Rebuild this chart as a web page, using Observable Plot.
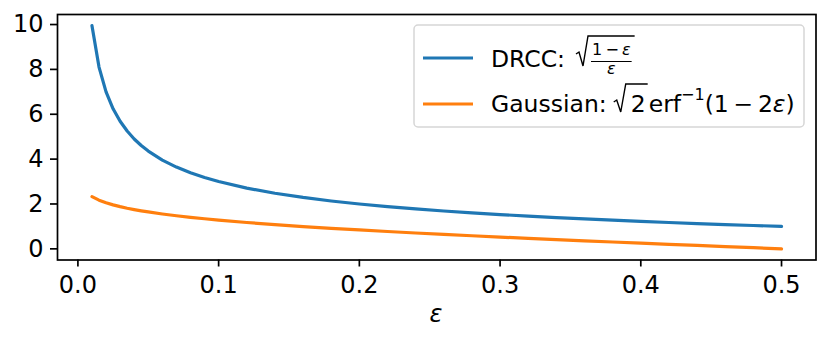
<!DOCTYPE html>
<html>
<head>
<meta charset="utf-8">
<script src="https://cdn.jsdelivr.net/npm/d3@7"></script>
<script src="https://cdn.jsdelivr.net/npm/@observablehq/plot@0.6"></script>
<style>
  html, body { margin: 0; padding: 0; background: white; }
  svg { display: block; }
</style>
</head>
<body>
<script>
// ε values (x)
const eps = [0.01, 0.015, 0.02, 0.025, 0.03, 0.035, 0.04, 0.045, 0.05, 0.06, 0.07, 0.08, 0.09, 0.10,
  0.12, 0.14, 0.16, 0.18, 0.20, 0.22, 0.24, 0.26, 0.28, 0.30, 0.32, 0.34, 0.36, 0.38, 0.40,
  0.42, 0.44, 0.46, 0.48, 0.50];
// DRCC series
const drcc = [9.950, 8.103, 7.000, 6.245, 5.686, 5.251, 4.899, 4.607, 4.359, 3.958, 3.645, 3.391, 3.180, 3.000,
  2.708, 2.478, 2.291, 2.134, 2.000, 1.883, 1.780, 1.687, 1.604, 1.528, 1.458, 1.393, 1.333, 1.277, 1.225,
  1.175, 1.128, 1.083, 1.041, 1.000];
// Gaussian series
const gaussian = [2.326, 2.170, 2.054, 1.960, 1.881, 1.812, 1.751, 1.695, 1.645, 1.555, 1.476, 1.405, 1.341, 1.282,
  1.175, 1.080, 0.994, 0.915, 0.842, 0.772, 0.706, 0.643, 0.583, 0.524, 0.468, 0.412, 0.358, 0.305, 0.253,
  0.202, 0.151, 0.100, 0.050, 0.000];
const xTicks = [0, 0.1, 0.2, 0.3, 0.4, 0.5];
const yTicks = [0, 2, 4, 6, 8, 10];

const drccRows = eps.map((e, i) => ({eps: e, v: drcc[i]}));
const gaussRows = eps.map((e, i) => ({eps: e, v: gaussian[i]}));

const FONT = "'DejaVu Sans', sans-serif";
const FS = 24;          // tick labels / axis label
const FS_LEG = 23.5;    // legend text
const FS_SMALL = 16;    // fraction / superscript
const TS = "\u2009";    // thin space around binary operators

const chart = Plot.plot({
  width: 830,
  height: 341,
  marginLeft: 57,
  marginRight: 14.5,
  marginTop: 14,
  marginBottom: 81.5,
  style: {fontFamily: FONT, fontSize: FS + "px", background: "white", color: "black"},
  x: {domain: [-0.0145, 0.5245]},
  y: {domain: [-0.4975, 10.4475]},
  marks: [
    Plot.line(drccRows, {x: "eps", y: "v", stroke: "#1f77b4", strokeWidth: 3.2}),
    Plot.line(gaussRows, {x: "eps", y: "v", stroke: "#ff7f0e", strokeWidth: 3.2}),
    Plot.frame({stroke: "black", strokeWidth: 1.7}),
    Plot.axisX({ticks: xTicks, tickFormat: d3.format(".1f"), tickSize: 7, tickPadding: 9,
      strokeWidth: 1.7, label: null, fill: "black", stroke: "black"}),
    Plot.axisY({ticks: yTicks, tickFormat: d => String(d), tickSize: 7, tickPadding: 7,
      strokeWidth: 1.7, label: null, fill: "black", stroke: "black"})
  ]
});
document.body.append(chart);

const svg = d3.select(chart);
// x-axis label
svg.append("text").attr("x", 436).attr("y", 322).attr("text-anchor", "middle")
  .style("font-family", FONT).attr("font-size", FS).attr("font-style", "italic").text("ε");

// legend
const g = svg.append("g").attr("transform", "translate(414,25)")
  .style("font-family", FONT).attr("fill", "black").attr("text-anchor", "start");
g.append("rect").attr("x", 0).attr("y", 0).attr("width", 390).attr("height", 102).attr("rx", 4)
  .attr("fill", "white").attr("fill-opacity", 0.8).attr("stroke", "#d6d6d6").attr("stroke-width", 1.5);
g.append("line").attr("x1", 9).attr("x2", 59).attr("y1", 33).attr("y2", 33)
  .attr("stroke", "#1f77b4").attr("stroke-width", 3.2);
g.append("line").attr("x1", 9).attr("x2", 59).attr("y1", 79).attr("y2", 79)
  .attr("stroke", "#ff7f0e").attr("stroke-width", 3.2);

function radical(x, yBottom, yTop, xEnd, hook) {
  g.append("path")
    .attr("d", `M${x},${yBottom - hook} L${x + 3},${yBottom - hook - 2} L${x + 7},${yBottom} L${x + 12},${yTop} L${xEnd},${yTop}`)
    .attr("fill", "none").attr("stroke", "black").attr("stroke-width", 1.4).attr("stroke-linejoin", "miter");
}

// Row 1: DRCC: sqrt((1-ε)/ε)
const row1 = g.append("text").attr("x", 77).attr("y", 42).attr("font-size", FS_LEG).text("DRCC:");
const e1 = row1.node().getExtentOfChar(4);
const r1x = e1.x + e1.width + 11;
const num = g.append("text").attr("y", 30).attr("font-size", FS_SMALL).attr("text-anchor", "middle");
num.append("tspan").text("1" + TS + "−" + TS);
num.append("tspan").attr("font-style", "italic").text("ε");
const numW = num.node().getComputedTextLength();
const fracL = r1x + 15, fracR = fracL + numW + 2;
const fracC = (fracL + fracR) / 2;
num.attr("x", fracC);
radical(r1x, 41, 11, fracR + 3, 12);
g.append("line").attr("x1", fracL).attr("x2", fracR).attr("y1", 36.5).attr("y2", 36.5)
  .attr("stroke", "black").attr("stroke-width", 1.2);
g.append("text").attr("x", fracC).attr("y", 49).attr("font-size", FS_SMALL)
  .attr("text-anchor", "middle").attr("font-style", "italic").text("ε");

// Row 2: Gaussian: √2 erf^{-1}(1 − 2ε) as one flowing text
const row2 = g.append("text").attr("x", 77).attr("y", 87).attr("font-size", FS_LEG);
row2.append("tspan").text("Gaussian:");
row2.append("tspan").attr("dx", 24).text("2");
row2.append("tspan").attr("dx", 3).text("erf");
row2.append("tspan").attr("dy", -12).attr("font-size", FS_SMALL).text("−1");
row2.append("tspan").attr("dy", 12).text("(1" + TS + "−" + TS + "2");
row2.append("tspan").attr("font-style", "italic").text("ε");
row2.append("tspan").text(")");
const e2 = row2.node().getExtentOfChar(9);
radical(e2.x - 17, 87, 59, e2.x + e2.width + 2, 10);
</script>
</body>
</html>
